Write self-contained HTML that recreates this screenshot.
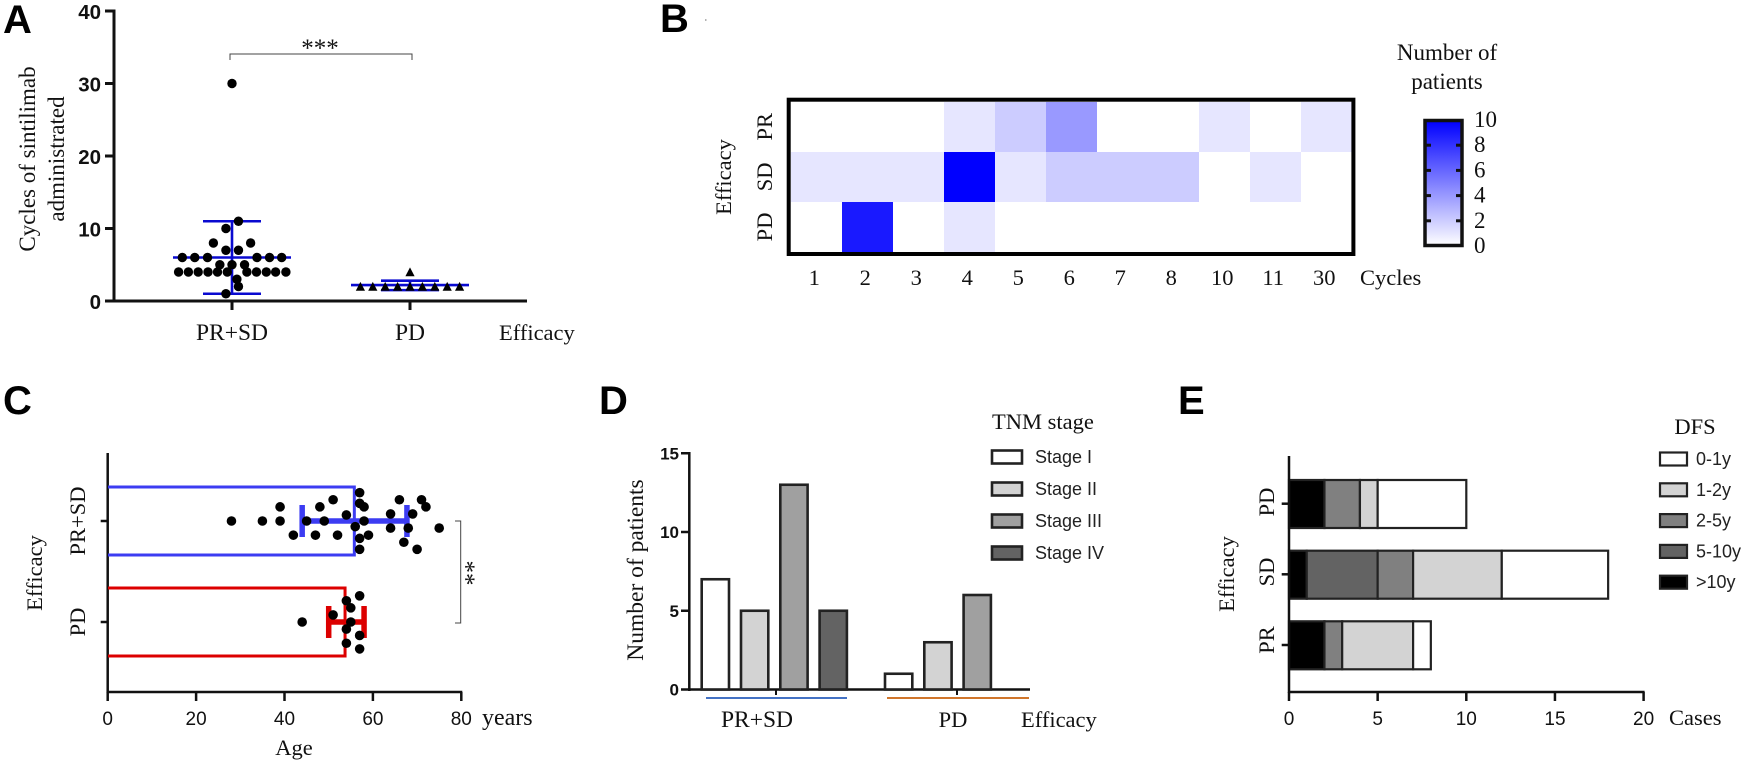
<!DOCTYPE html>
<html lang="en">
<head>
<meta charset="utf-8">
<title>Sintilimab efficacy figure</title>
<style>
html,body{margin:0;padding:0;background:#fff;width:1752px;height:763px;overflow:hidden}
svg{display:block}
.serif{font-family:"Liberation Serif",serif;font-size:22.5px;fill:#111}
.sans{font-family:"Liberation Sans",sans-serif;font-size:18px;fill:#222}
.tick{font-family:"Liberation Sans",sans-serif;font-size:19px;fill:#111}
.btick{font-family:"Liberation Sans",sans-serif;font-weight:bold;font-size:20px;fill:#111}
.panel{font-family:"Liberation Sans",sans-serif;font-weight:bold;font-size:40px;fill:#000}
</style>
</head>
<body>
<svg id="fig" xmlns="http://www.w3.org/2000/svg" width="1752" height="763" viewBox="0 0 1752 763">
  <rect x="0" y="0" width="1752" height="763" fill="#fff"/>
  <text class="panel" x="3" y="33">A</text>
  <text class="panel" x="660" y="32">B</text>
  <text class="panel" x="3" y="414">C</text>
  <text class="panel" x="599" y="414">D</text>
  <text class="panel" x="1178" y="414">E</text>

  <text class="serif" text-anchor="middle" transform="translate(35,159) rotate(-90)" style="font-size:23px">Cycles of sintilimab</text>
  <text class="serif" text-anchor="middle" transform="translate(64,159) rotate(-90)" style="font-size:23px">administrated</text>
  <text class="serif" x="499" y="340">Efficacy</text>
  <text class="serif" text-anchor="middle" x="320" y="56" style="font-size:25px">***</text>
  <path d="M230 60V54H412V60" fill="none" stroke="#444" stroke-width="1"/>

  <text class="serif" text-anchor="middle" transform="translate(731,177) rotate(-90)">Efficacy</text>
  <text class="serif" x="1360" y="285">Cycles</text>
  <text class="serif" text-anchor="middle" x="1447" y="60" style="font-size:23px">Number of</text>
  <text class="serif" text-anchor="middle" x="1447" y="89" style="font-size:23px">patients</text>
  <defs>
    <linearGradient id="cbar" x1="0" y1="0" x2="0" y2="1">
      <stop offset="0" stop-color="#0000ff"/>
      <stop offset="1" stop-color="#ffffff"/>
    </linearGradient>
  </defs>
  <rect x="1425" y="120.5" width="37" height="125" fill="url(#cbar)" stroke="#111" stroke-width="3.5"/>
  <path d="M705 20h1.5" stroke="#666" stroke-width="1"/>

  <text class="serif" text-anchor="middle" transform="translate(42,573) rotate(-90)">Efficacy</text>
  <text class="serif" text-anchor="middle" x="294" y="755">Age</text>
  <text class="serif" x="482" y="725" style="font-size:24px">years</text>
  <path d="M455 521H460.7V623H455" fill="none" stroke="#444" stroke-width="1"/>
  <text class="serif" text-anchor="middle" transform="translate(458,573) rotate(90)" style="font-size:25px">**</text>

  <text class="serif" text-anchor="middle" transform="translate(643,570) rotate(-90)" style="font-size:23.5px">Number of patients</text>
  <text class="serif" x="1021" y="727">Efficacy</text>
  <text class="serif" x="992" y="429">TNM stage</text>

  <text class="serif" text-anchor="middle" transform="translate(1234,574) rotate(-90)">Efficacy</text>
  <text class="serif" x="1669" y="725">Cases</text>
  <text class="serif" text-anchor="middle" x="1695" y="434">DFS</text>
</svg>
<script>
// ---------- Panel A data ----------
const aTicks = [0, 10, 20, 30, 40];
const aCategories = ['PR+SD', 'PD'];
const aPrSdValues = [30, 11, 10, 8, 8, 7, 7, 6, 6, 6, 6, 6, 6, 5, 5, 5, 4, 4, 4, 4, 4, 4, 4, 4, 4, 4, 4, 3, 2, 1];
const aPrSdDodge = [0, .66, -.62, -1.9, 1.9, -.62, .66, -5.07, -3.8, -2.5, 2.55, 3.83, 5.07, -1.24, 0, 1.28, -5.45, -4.45, -3.45, -2.45, -1.48, -.48, 1.52, 2.5, 3.5, 4.45, 5.5, .5, .66, -.62];
const aPdValues = [4, 2, 2, 2, 2, 2, 2, 2, 2, 2];
const aPdDodge = [0, -4, -3, -2, -1, 0, 1, 2, 3, 4];
const aPrSdSummary = [1, 6, 11];
const aPdSummary = [1.5, 2.2, 2.8];
// ---------- Panel B data ----------
const bCycles = ['1', '2', '3', '4', '5', '6', '7', '8', '10', '11', '30'];
const bRows = ['PR', 'SD', 'PD'];
const bPR = [0, 0, 0, 1, 2, 4, 0, 0, 1, 0, 1];
const bSD = [1, 1, 1, 10, 1, 2, 2, 2, 0, 1, 0];
const bPD = [0, 9, 0, 1, 0, 0, 0, 0, 0, 0, 0];
const bScaleTicks = [0, 2, 4, 6, 8, 10];
// ---------- Panel C data ----------
const cTicks = [0, 20, 40, 60, 80];
const cPrSdAges = [28, 35, 39, 39, 42, 45, 47, 48, 49, 51, 52, 54, 56, 57, 57, 58, 58, 57, 59, 57, 64, 64, 66, 67, 68, 69, 70, 71, 72, 75];
const cPrSdDodge = [0, 0, 0, -2, 2, 0, 2, -2, 0, -3, 2, -.85, .8, -4, -2.5, -2, 0, 2.45, 2, 4, -1, 1, -3, 3, 1, -1, 4, -3, -2, 1];
const cPdAges = [44, 51, 54, 55, 57, 55, 54, 57, 54, 57];
const cPdDodge = [0, -1, -3, -2, -3.7, 0, 1, 1.9, 3, 3.8];
const cPrSdBar = [44, 55.8, 67.7];
const cPdBar = [50, 53.7, 58];
// ---------- Panel D data ----------
const dTicks = [0, 5, 10, 15];
const dStages = ['Stage I', 'Stage II', 'Stage III', 'Stage IV'];
const dPrSd = [7, 5, 13, 5];
const dPd = [1, 3, 6, 0];
const dFills = ['#ffffff', '#d3d3d3', '#a0a0a0', '#636363'];
// ---------- Panel E data ----------
const eTicks = [0, 5, 10, 15, 20];
const eRows = ['PD', 'SD', 'PR'];
const eSeriesNames = ['>10y', '5-10y', '2-5y', '1-2y', '0-1y'];
const eGt10 = [2, 1, 2];
const e5to10 = [0, 4, 0];
const e2to5 = [2, 2, 1];
const e1to2 = [1, 5, 4];
const e0to1 = [5, 6, 1];
const eFills = ['#000000', '#636363', '#808080', '#d3d3d3', '#ffffff'];
const eLegendOrder = ['0-1y', '1-2y', '2-5y', '5-10y', '>10y'];

const svg = document.getElementById('fig');
function mk(tag, attrs, name, text) {
  const e = document.createElementNS('http://www.w3.org/2000/svg', tag);
  for (const k in attrs) e.setAttribute(k, attrs[k]);
  
  
  if (text !== undefined) e.textContent = text;
  svg.appendChild(e);
  return e;
}
function line(x1, y1, x2, y2, stroke, w, name) {
  return mk('line', {x1, y1, x2, y2, stroke, 'stroke-width': w}, name);
}
function vtext(x, y, s, name, cls) {
  return mk('text', {class: cls || 'serif', 'text-anchor': 'middle', transform: `translate(${x},${y}) rotate(-90)`}, name, s);
}

// ---------- Panel A ----------
(function () {
  const yA = v => 301 - v * 7.25;
  const centers = [232, 410];
  const dodge = 9.8;
  line(114, 9.5, 114, 302.5, '#111', 3, 'a-y-axis');
  line(112.5, 301, 527, 301, '#111', 3, 'a-x-axis');
  aTicks.forEach(t => {
    line(105, yA(t), 114, yA(t), '#111', 3, 'a-y-tick');
    mk('text', {class: 'btick', x: 101, y: yA(t) + 8, 'text-anchor': 'end', style: 'font-size:20.5px'}, 'a-y-tick-label', t);
  });
  aCategories.forEach((c, i) => {
    line(centers[i], 301, centers[i], 310, '#111', 3, 'a-x-tick');
    mk('text', {class: 'serif', x: centers[i], y: 340, 'text-anchor': 'middle', style: 'font-size:23.5px'}, 'a-x-tick-label', c);
  });
  const blue = '#0a0ad0';
  function summary(cx, s, halfMean, halfCap, nm) {
    line(cx, yA(s[0]), cx, yA(s[2]), blue, 2.6, nm + '-error-stem');
    line(cx - halfMean, yA(s[1]), cx + halfMean, yA(s[1]), blue, 2.6, nm + '-median-line');
    line(cx - halfCap, yA(s[0]), cx + halfCap, yA(s[0]), blue, 2.6, nm + '-lower-cap');
    line(cx - halfCap, yA(s[2]), cx + halfCap, yA(s[2]), blue, 2.6, nm + '-upper-cap');
  }
  summary(centers[0], aPrSdSummary, 59, 29, 'a-prsd');
  summary(centers[1], aPdSummary, 59, 29, 'a-pd');
  aPrSdValues.forEach((v, i) => {
    mk('circle', {cx: centers[0] + aPrSdDodge[i] * dodge, cy: yA(v), r: 4.7, fill: '#000'}, 'a-prsd-point');
  });
  aPdValues.forEach((v, i) => {
    const x = centers[1] + aPdDodge[i] * 12.4, y = yA(v);
    mk('polygon', {points: `${x - 4.6},${y + 4.2} ${x + 4.6},${y + 4.2} ${x},${y - 4.6}`, fill: '#000'}, 'a-pd-point');
  });
})();

// ---------- Panel B ----------
(function () {
  const left = 790.7, top = 101.7, cw = 51, ch = 50.1;
  const color = v => {
    const c = Math.round(255 * (1 - v / 10));
    return `rgb(${c},${c},255)`;
  };
  [bPR, bSD, bPD].forEach((row, r) => {
    row.forEach((v, c) => {
      const x0 = Math.round(left + c * cw), x1 = Math.round(left + (c + 1) * cw);
      const y0 = Math.round(top + r * ch), y1 = Math.round(top + (r + 1) * ch);
      mk('rect', {x: x0, y: y0, width: x1 - x0, height: y1 - y0, fill: color(v), 'shape-rendering': 'crispEdges'}, 'b-heatmap-cell');
    });
    vtext(772, top + (r + .5) * ch, bRows[r], 'b-y-tick-label');
  });
  mk('rect', {x: 788.7, y: 99.7, width: 564.7, height: 154.3, fill: 'none', stroke: '#000', 'stroke-width': 4}, 'b-heatmap-frame');
  bCycles.forEach((c, i) => {
    mk('text', {class: 'serif', x: left + (i + .5) * cw - 2, y: 285, 'text-anchor': 'middle'}, 'b-x-tick-label', c);
  });
  const yC = v => 246 - v * 12.6;
  bScaleTicks.forEach(t => {
    mk('text', {class: 'serif', x: 1474, y: yC(t) + 7, style: 'font-size:23px'}, 'b-colorbar-label', t);
    if (t > 0 && t < 10) {
      line(1425, yC(t), 1431, yC(t), '#111', 3, 'b-colorbar-tick-left');
      line(1456, yC(t), 1462, yC(t), '#111', 3, 'b-colorbar-tick-right');
    }
  });
})();

// ---------- Panel C ----------
(function () {
  const xC = v => 107.7 + v * 4.42;
  const rows = [521, 622];
  const slot = 7.08;
  const blue = '#3c3cf2', red = '#dc0000';
  line(107.7, 453, 107.7, 693, '#111', 2.5, 'c-y-axis');
  line(106.5, 692, xC(80) + 1, 692, '#111', 2.5, 'c-x-axis');
  cTicks.forEach(t => {
    line(xC(t), 692, xC(t), 701, '#111', 2.5, 'c-x-tick');
    mk('text', {class: 'tick', x: xC(t), y: 725, 'text-anchor': 'middle'}, 'c-x-tick-label', t);
  });
  ['PR+SD', 'PD'].forEach((c, i) => {
    line(100.7, rows[i], 107.7, rows[i], '#111', 2.5, 'c-y-tick');
    vtext(85, rows[i], c, 'c-y-tick-label');
  });
  function bar(vals, ymid, col, nm) {
    const x = xC(vals[1]);
    mk('path', {d: `M108 ${ymid - 34}H${x}V${ymid + 34}H108`, fill: 'none', stroke: col, 'stroke-width': 3}, nm + '-bar');
    line(xC(vals[0]), ymid, xC(vals[2]), ymid, col, 5.5, nm + '-error-line');
    line(xC(vals[0]), ymid - 16, xC(vals[0]), ymid + 16, col, 5.5, nm + '-error-cap-low');
    line(xC(vals[2]), ymid - 16, xC(vals[2]), ymid + 16, col, 5.5, nm + '-error-cap-high');
  }
  bar(cPrSdBar, rows[0], blue, 'c-prsd');
  bar(cPdBar, rows[1], red, 'c-pd');
  cPrSdAges.forEach((a, i) => {
    mk('circle', {cx: xC(a), cy: rows[0] + cPrSdDodge[i] * slot, r: 4.8, fill: '#000'}, 'c-prsd-point');
  });
  cPdAges.forEach((a, i) => {
    mk('circle', {cx: xC(a), cy: rows[1] + cPdDodge[i] * slot, r: 4.8, fill: '#000'}, 'c-pd-point');
  });
})();

// ---------- Panel D ----------
(function () {
  const yD = v => 689.5 - v * 15.75;
  const groupStart = [701.7, 885];
  const step = 39.3, w = 27.3;
  line(689.3, 452, 689.3, 691, '#111', 2.5, 'd-y-axis');
  line(688, 689.5, 1030, 689.5, '#111', 2.5, 'd-x-axis');
  dTicks.forEach(t => {
    line(681, yD(t), 689.3, yD(t), '#111', 2.5, 'd-y-tick');
    mk('text', {class: 'btick', x: 679, y: yD(t) + 6, 'text-anchor': 'end', style: 'font-size:17px'}, 'd-y-tick-label', t);
  });
  [dPrSd, dPd].forEach((series, g) => {
    series.forEach((v, i) => {
      if (v === 0) return;
      mk('rect', {x: groupStart[g] + i * step, y: yD(v), width: w, height: yD(0) - yD(v), fill: dFills[i], stroke: '#222', 'stroke-width': 2.6}, g ? 'd-pd-bar' : 'd-prsd-bar');
    });
  });
  line(776, 689.5, 776, 695, '#111', 2, 'd-x-tick');
  line(957, 689.5, 957, 695, '#111', 2, 'd-x-tick');
  line(706, 698, 847, 698, '#4472c4', 2, 'd-prsd-group-line');
  line(887, 698, 1029, 698, '#d0762c', 2, 'd-pd-group-line');
  mk('text', {class: 'serif', x: 757, y: 727, 'text-anchor': 'middle', style: 'font-size:23.5px'}, 'd-x-tick-label', 'PR+SD');
  mk('text', {class: 'serif', x: 953, y: 727, 'text-anchor': 'middle'}, 'd-x-tick-label', 'PD');
  dStages.forEach((s, i) => {
    const y = 457 + i * 32;
    mk('rect', {x: 992, y: y - 6.5, width: 30, height: 13, fill: dFills[i], stroke: '#222', 'stroke-width': 2.6}, 'd-legend-swatch');
    mk('text', {class: 'sans', x: 1035, y: y + 6}, 'd-legend-label', s);
  });
})();

// ---------- Panel E ----------
(function () {
  const xE = v => 1289 + v * 17.73;
  const tops = [480, 550.7, 621.3];
  const ticksY = [503.7, 574.3, 645];
  const labelsY = [502, 572, 640];
  const h = 48;
  const series = [eGt10, e5to10, e2to5, e1to2, e0to1];
  eRows.forEach((r, i) => {
    let acc = 0;
    series.forEach((s, k) => {
      if (s[i] > 0) {
        mk('rect', {x: xE(acc), y: tops[i], width: xE(acc + s[i]) - xE(acc), height: h, fill: eFills[k], stroke: '#222', 'stroke-width': 2.2}, 'e-segment-' + eSeriesNames[k].replace('>', 'over-'));
      }
      acc += s[i];
    });
    line(1281.7, ticksY[i], 1289, ticksY[i], '#111', 2.5, 'e-y-tick');
    vtext(1274, labelsY[i], r, 'e-y-tick-label');
  });
  line(1289, 456, 1289, 693, '#111', 2.5, 'e-y-axis');
  line(1288, 692, xE(20) + 1, 692, '#111', 2.5, 'e-x-axis');
  eTicks.forEach(t => {
    line(xE(t), 692, xE(t), 701, '#111', 2.5, 'e-x-tick');
    mk('text', {class: 'tick', x: xE(t), y: 725, 'text-anchor': 'middle'}, 'e-x-tick-label', t);
  });
  const legendFills = eFills.slice().reverse();
  eLegendOrder.forEach((s, i) => {
    const y = 459 + i * 30.8;
    mk('rect', {x: 1660, y: y - 6.5, width: 27, height: 13, fill: legendFills[i], stroke: '#222', 'stroke-width': 2.2}, 'e-legend-swatch');
    mk('text', {class: 'sans', x: 1696, y: y + 6}, 'e-legend-label', s);
  });
})();
</script>
</body>
</html>
